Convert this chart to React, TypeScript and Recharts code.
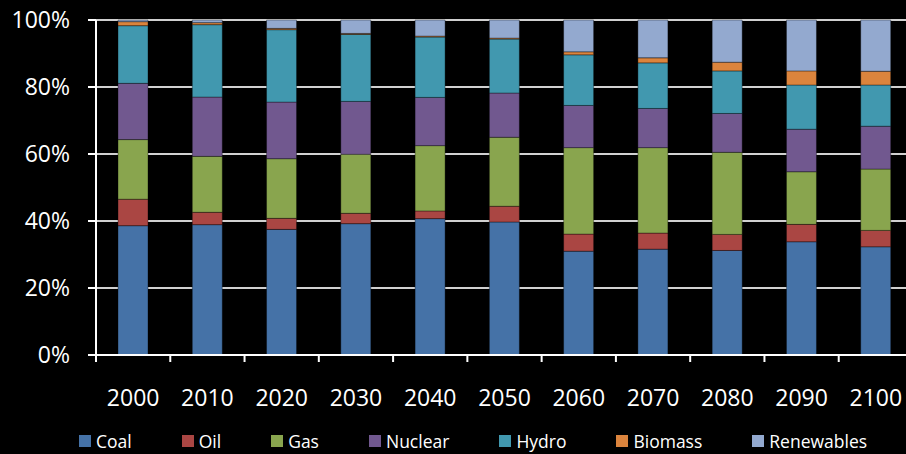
import { Bar, BarChart, CartesianGrid, XAxis, YAxis } from 'recharts';

const YEARS = ['2000', '2010', '2020', '2030', '2040', '2050', '2060', '2070', '2080', '2090', '2100'];
const COAL = [38.6, 38.9, 37.5, 39.2, 40.7, 39.7, 31.0, 31.6, 31.2, 33.8, 32.3];
const OIL = [7.9, 3.7, 3.3, 3.1, 2.3, 4.7, 5.1, 4.8, 4.8, 5.2, 4.9];
const GAS = [17.8, 16.7, 17.8, 17.6, 19.5, 20.6, 25.8, 25.5, 24.5, 15.7, 18.3];
const NUCLEAR = [16.8, 17.7, 16.9, 15.8, 14.4, 13.2, 12.6, 11.7, 11.6, 12.7, 12.8];
const HYDRO = [17.2, 21.6, 21.6, 20.0, 18.0, 16.1, 15.1, 13.6, 12.7, 13.2, 12.3];
const BIOMASS = [1.2, 0.6, 0.4, 0.3, 0.3, 0.3, 0.9, 1.5, 2.6, 4.2, 4.1];
const RENEWABLES = [0.5, 0.8, 2.5, 4.0, 4.8, 5.4, 9.5, 11.3, 12.6, 15.2, 15.3];
const Y_TICKS = [0, 0.2, 0.4, 0.6, 0.8, 1];

const SERIES = [
	{ key: 'Coal', values: COAL, color: '#4572A7' },
	{ key: 'Oil', values: OIL, color: '#AA4643' },
	{ key: 'Gas', values: GAS, color: '#89A54E' },
	{ key: 'Nuclear', values: NUCLEAR, color: '#71588F' },
	{ key: 'Hydro', values: HYDRO, color: '#4198AF' },
	{ key: 'Biomass', values: BIOMASS, color: '#DB843D' },
	{ key: 'Renewables', values: RENEWABLES, color: '#93A9CF' },
];

const FONT = '"Open Sans", sans-serif';
const CHART_W = 913;
const CHART_H = 454;
const AXIS_W = 96;
const TOP = 20;
const X_AXIS_H = 99;
const PLOT_BOTTOM = CHART_H - X_AXIS_H;
const CAT_W = (CHART_W - AXIS_W) / YEARS.length;

const data = YEARS.map((year, i) => {
	const row: Record<string, string | number> = { year };
	SERIES.forEach((s) => {
		row[s.key] = s.values[i];
	});
	return row;
});

// label in the middle, tick mark on the left edge of each category (Excel style)
const YearTick = (props: any) => {
	const { x, payload } = props;
	return (
		<g>
			<line x1={x - CAT_W / 2} y1={PLOT_BOTTOM} x2={x - CAT_W / 2} y2={PLOT_BOTTOM + 7} stroke="#fff" strokeWidth={2} />
			<text x={x} y={PLOT_BOTTOM + 42} textAnchor="middle" dominantBaseline="central" fill="#fff" fontSize={23} fontFamily={FONT}>
				{payload.value}
			</text>
		</g>
	);
};

export default function App() {
	return (
		<div style={{ position: 'absolute', left: 0, top: 0, width: 906, height: 454, overflow: 'hidden', background: '#000' }}>
			<BarChart
				width={CHART_W}
				height={CHART_H}
				data={data}
				stackOffset="expand"
				barSize={30}
				margin={{ top: TOP, right: 0, left: 0, bottom: 0 }}
			>
				<CartesianGrid vertical={false} stroke="#d0d0d0" strokeWidth={2} />
				<XAxis
					dataKey="year"
					height={X_AXIS_H}
					interval={0}
					tickLine={false}
					axisLine={{ stroke: '#fff', strokeWidth: 2 }}
					tick={<YearTick />}
				/>
				<YAxis
					width={AXIS_W}
					domain={[0, 1]}
					ticks={Y_TICKS}
					tickFormatter={(v: number) => `${Math.round(v * 100)}%`}
					tickSize={8}
					tickMargin={18}
					tickLine={{ stroke: '#fff', strokeWidth: 2 }}
					axisLine={{ stroke: '#fff', strokeWidth: 2 }}
					tick={{ fill: '#fff', fontSize: 23, fontFamily: FONT }}
				/>
				{SERIES.map((s) => (
					<Bar
						key={s.key}
						dataKey={s.key}
						stackId="a"
						fill={s.color}
						stroke="rgba(0,0,0,0.35)"
						strokeWidth={1}
						isAnimationActive={false}
					/>
				))}
			</BarChart>
			<div
				style={{
					position: 'absolute',
					left: 79,
					top: 431,
					height: 20,
					display: 'flex',
					alignItems: 'center',
					gap: 50,
					fontFamily: FONT,
					fontSize: 17.5,
					lineHeight: '20px',
					color: '#fff',
					whiteSpace: 'nowrap',
				}}
			>
				{SERIES.map((s) => (
					<div key={s.key} style={{ display: 'flex', alignItems: 'center', gap: 5 }}>
						<span style={{ width: 12, height: 12, background: s.color, display: 'inline-block' }} />
						<span>{s.key}</span>
					</div>
				))}
			</div>
		</div>
	);
}
